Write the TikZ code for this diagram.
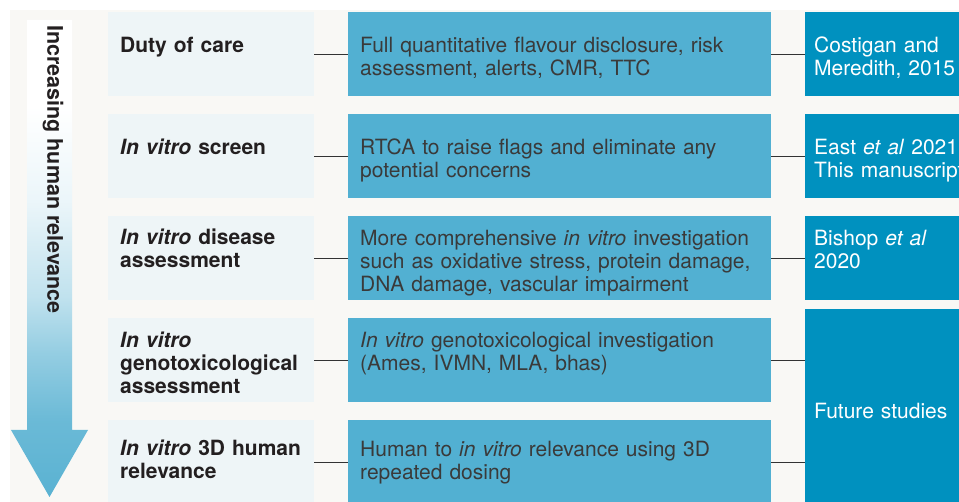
\documentclass[tikz,border=0pt]{standalone}
\usepackage{fontspec}
\setmainfont{TeX Gyre Heros}
\usetikzlibrary{positioning}

\definecolor{pagebg}{HTML}{F9F8F5}
\definecolor{stagebg}{HTML}{EEF5F7}
\definecolor{studyblue}{HTML}{52B0D2}
\definecolor{refblue}{HTML}{0091BF}
\definecolor{arrowblue}{HTML}{5AB2D2}
\definecolor{inktext}{HTML}{231F20}
\definecolor{bodytext}{HTML}{3A3A3A}

% white at the top, blue towards the tip
\pgfdeclareverticalshading{relevance}{100bp}{color(0bp)=(arrowblue); color(25bp)=(arrowblue); color(33bp)=(arrowblue!90!white); color(40bp)=(arrowblue!65!white); color(46bp)=(arrowblue!38!white); color(56bp)=(arrowblue!12!white); color(66bp)=(white); color(100bp)=(white)}

\begin{document}
\begin{tikzpicture}[
    x=1pt, y=-1pt,
    stage/.style={fill=stagebg, anchor=north west, inner sep=0pt, minimum width=206pt, minimum height=84pt},
    study/.style={fill=studyblue, anchor=north west, inner sep=0pt, minimum width=423pt, minimum height=84pt},
    source/.style={fill=refblue, anchor=north west, inner sep=0pt, minimum width=180pt, minimum height=84pt},
    stagetxt/.style={anchor=north west, inner sep=0pt, text width=200pt, align=left, text=inktext, font=\fontsize{21}{23}\selectfont\bfseries, execute at begin node=\strut},
    studytxt/.style={anchor=north west, inner sep=0pt, text width=420pt, align=left, text=bodytext, font=\fontsize{21}{23}\selectfont, execute at begin node=\strut},
    sourcetxt/.style={anchor=north west, inner sep=0pt, text width=170pt, align=left, text=white, font=\fontsize{21}{23}\selectfont, execute at begin node=\strut},
    link/.style={draw=black!80, line width=1.3pt}
]

\fill[white] (0,0) rectangle (959,502);
\fill[pagebg] (10,10) rectangle (959,502);
\useasboundingbox (0,0) rectangle (959,502);

% relevance arrow
\shade[shading=relevance] (27,20) -- (72,20) -- (72,430) -- (88,430) -- (49.5,497) -- (11,430) -- (27,430) -- cycle;
\node[rotate=-90, anchor=mid west, inner sep=0pt, text=inktext, font=\fontsize{21.5}{23}\selectfont\bfseries] (relevance) at (50,25) {Increasing human relevance};

% stages
\node[stage] (duty) at (108,12) {};
\node[stage] (screen) at (108,114) {};
\node[stage] (disease) at (108,216) {};
\node[stage] (genotox) at (108,318) {};
\node[stage] (human) at (108,420) {};

\node[stagetxt] (dutytxt) at (120,36) {Duty of care};
\node[stagetxt] (screentxt) at (120,138) {\textit{In vitro} screen};
\node[stagetxt] (diseasetxt) at (120,228) {\textit{In vitro} disease\\assessment};
\node[stagetxt] (genotoxtxt) at (120,331) {\textit{In vitro}\\genotoxicological\\assessment};
\node[stagetxt] (humantxt) at (120,439) {\textit{In vitro} 3D human\\relevance};

% studies
\node[study] (disclosure) at (348,12) {};
\node[study] (rtca) at (348,114) {};
\node[study] (investigation) at (348,216) {};
\node[study] (genoinv) at (348,318) {};
\node[study] (dosing) at (348,420) {};

\node[studytxt] (disclosuretxt) at (360,36) {Full quantitative flavour disclosure, risk\\assessment, alerts, CMR, TTC};
\node[studytxt] (rtcatxt) at (360,138) {RTCA to raise flags and eliminate any\\potential concerns};
\node[studytxt] (investigationtxt) at (360,229) {More comprehensive \textit{in vitro} investigation\\such as oxidative stress, protein damage,\\DNA damage, vascular impairment};
\node[studytxt] (genoinvtxt) at (360,331) {\textit{In vitro} genotoxicological investigation\\(Ames, IVMN, MLA, bhas)};
\node[studytxt] (dosingtxt) at (360,440) {Human to \textit{in vitro} relevance using 3D\\repeated dosing};

% sources
\node[source] (costigan) at (805,12) {};
\node[source] (east) at (805,114) {};
\node[source] (bishop) at (805,216) {};
\node[source, minimum height=200pt] (future) at (805,309) {};

\node[sourcetxt] (costigantxt) at (814,36) {Costigan and\\Meredith, 2015};
\node[sourcetxt] (easttxt) at (814,138) {East \textit{et al} 2021\\This manuscript};
\node[sourcetxt] (bishoptxt) at (814,229) {Bishop \textit{et al}\\2020};
\node[sourcetxt] (futuretxt) at (814,402) {Future studies};

% connectors
\draw[link] (duty) -- (disclosure);
\draw[link] (screen) -- (rtca);
\draw[link] (disease) -- (investigation);
\draw[link] (genotox) -- (genoinv);
\draw[link] (human) -- (dosing);
\draw[link] (disclosure) -- (costigan);
\draw[link] (rtca) -- (east);
\draw[link] (investigation) -- (bishop);
\draw[link] (genoinv.east) -- (genoinv.east -| future.west);
\draw[link] (dosing.east) -- (dosing.east -| future.west);

\end{tikzpicture}
\end{document}
